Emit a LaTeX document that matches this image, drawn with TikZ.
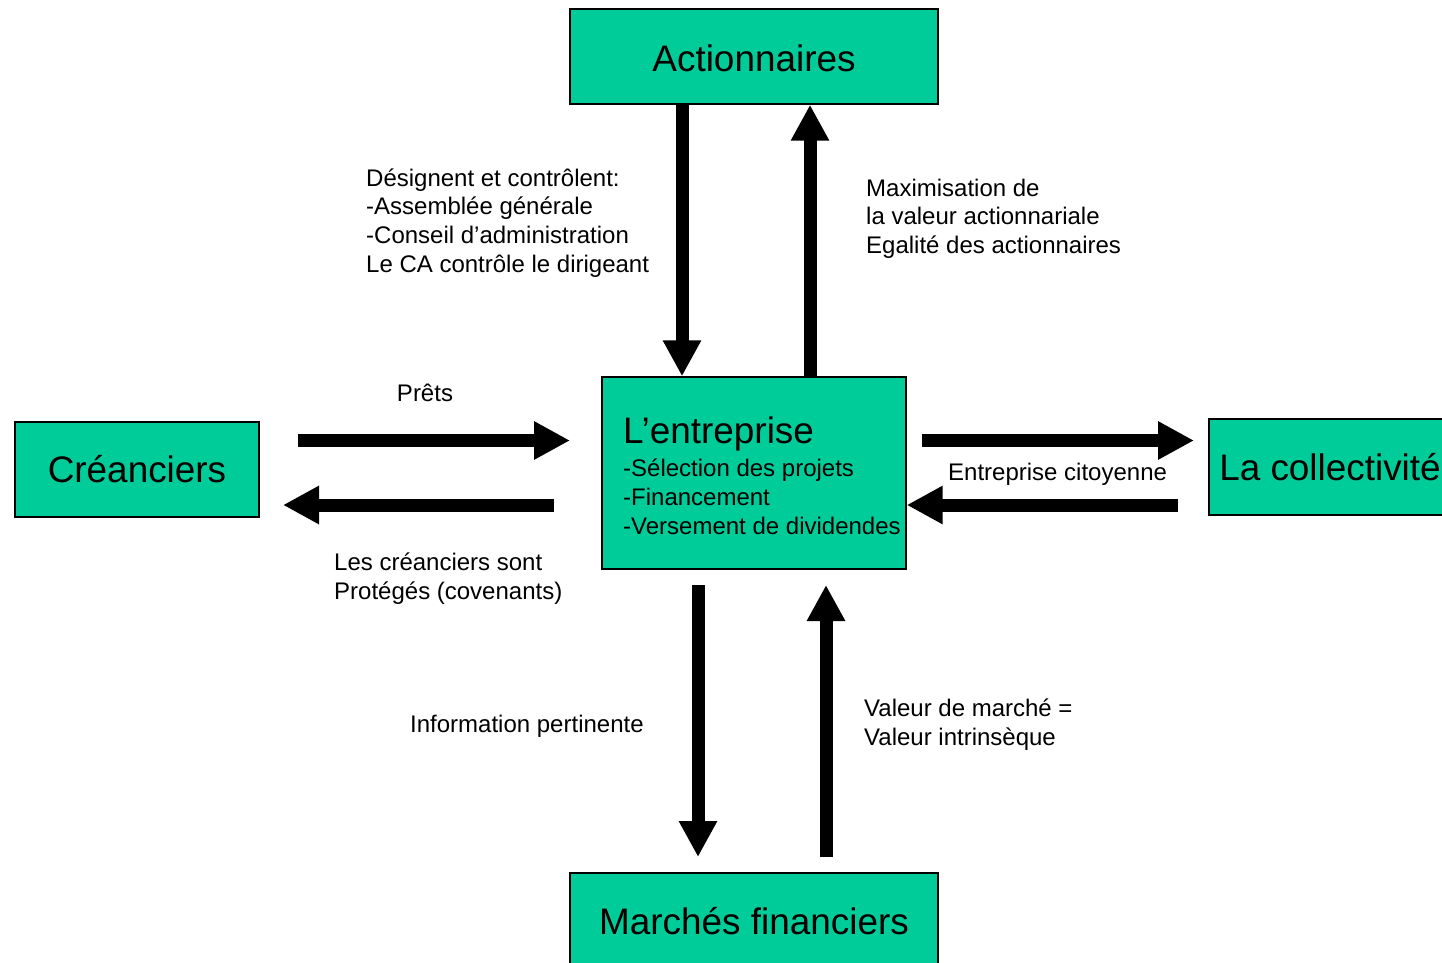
\documentclass[tikz,border=0pt]{standalone}
\usepackage{fontspec}
\setmainfont{Liberation Sans}
\usetikzlibrary{arrows.meta}
\definecolor{boxgreen}{RGB}{0,204,153}
\begin{document}
\begin{tikzpicture}[x=1pt,y=-1pt,
  box/.style={draw=black,line width=1.4pt,fill=boxgreen,inner sep=0pt,font=\fontsize{36.9}{44}\selectfont},
  lab/.style={inner sep=0pt,align=left,font=\fontsize{24}{28.7}\selectfont},
  bigarrow/.style={line width=13pt,-{Triangle[length=36pt,width=36pt]}}]
\useasboundingbox (0,0) rectangle (1442,963);
\clip (0,0) rectangle (1442,963);
\fill[white] (0,0) rectangle (1442,963);
% boxes
\node[box,minimum width=368pt,minimum height=95pt,text height=30pt,text depth=0pt] (act) at (754,56.5) {Actionnaires};
\node[box,minimum width=244pt,minimum height=95pt] (cre) at (137,469.5) {Créanciers};
\node[box,minimum width=304pt,minimum height=192pt] (ent) at (754,473) {};
\node[box,minimum width=242pt,minimum height=96pt] (col) at (1330,467) {La collectivité};
\node[box,minimum width=368pt,minimum height=96pt] (mar) at (754,921) {Marchés financiers};
\node[lab,anchor=north west] (entlab) at (623,417) {{\fontsize{36.9}{44}\selectfont L’entreprise}\\[4pt]-Sélection des projets\\-Financement\\-Versement de dividendes};
% columns / rows
\coordinate (c1) at (682,0);
\coordinate (c2) at (810,0);
\coordinate (c3) at (698,0);
\coordinate (c4) at (826,0);
\coordinate (pretA) at (298,440.5);
\coordinate (pretB) at (570,440.5);
\coordinate (protA) at (554,505);
\coordinate (protB) at (283,505);
\coordinate (colA) at (922,440.5);
\coordinate (colB) at (1194,440.5);
\coordinate (citA) at (1178,505);
\coordinate (marTop) at (0,585);
\coordinate (marBot) at (0,857);
% arrows
\draw[bigarrow] (c1 |- act.south) -- (c1 |- ent.north);
\draw[bigarrow] (c2 |- ent.north) -- (c2 |- act.south);
\draw[bigarrow] (pretA) -- (pretB);
\draw[bigarrow] (protA) -- (protB);
\draw[bigarrow] (colA) -- (colB);
\draw[bigarrow] (citA) -- (ent.east |- citA);
\draw[bigarrow] (c3 |- marTop) -- (c3 |- marBot);
\draw[bigarrow] (c4 |- marBot) -- (c4 |- marTop);
% labels
\node[lab,anchor=west] (l1) at (366,223) {Désignent et contrôlent:\\-Assemblée générale\\-Conseil d’administration\\Le CA contrôle le dirigeant};
\node[lab,anchor=west] (l2) at (866,218.5) {Maximisation de\\la valeur actionnariale\\Egalité des actionnaires};
\node[lab] (l3) at (425,392.5) {Prêts};
\node[lab,anchor=west] (l4) at (334,578.5) {Les créanciers sont\\Protégés (covenants)};
\node[lab,anchor=west] (l5) at (948,474) {Entreprise citoyenne};
\node[lab,anchor=west] (l6) at (410,726) {Information pertinente};
\node[lab,anchor=west] (l7) at (864,724.5) {Valeur de marché =\\Valeur intrinsèque};
\end{tikzpicture}
\end{document}
